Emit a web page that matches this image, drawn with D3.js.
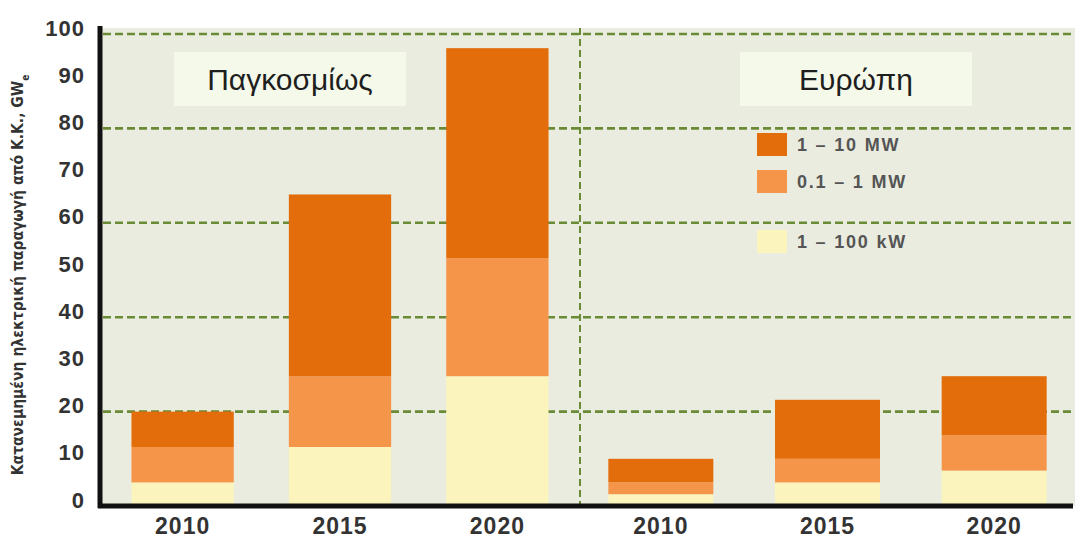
<!DOCTYPE html>
<html>
<head>
<meta charset="utf-8">
<script src="https://cdn.jsdelivr.net/npm/d3@7"></script>
<style>
  html, body { margin: 0; padding: 0; background: #ffffff; }
  svg { display: block; }
</style>
</head>
<body>
<svg id="chart" width="1091" height="559"></svg>
<script>
// Distributed generation capacity from renewables (GWe), by unit size
const regions = ["Παγκοσμίως", "Ευρώπη"];
const years = ["2010", "2015", "2020"];
const seriesNames = ["1 – 100 kW", "0.1 – 1 MW", "1 – 10 MW"];
const worldSmall  = [5, 12.5, 27.5];
const worldMedium = [7.5, 15, 25];
const worldLarge  = [7.5, 38.5, 44.5];
const europeSmall  = [2.5, 5, 7.5];
const europeMedium = [2.5, 5, 7.5];
const europeLarge  = [5, 12.5, 12.5];
const yTicks = [0, 10, 20, 30, 40, 50, 60, 70, 80, 90, 100];
const gridTicks = [20, 40, 60, 80, 100];
const legendOrder = ["1 – 10 MW", "0.1 – 1 MW", "1 – 100 kW"];
const yTitle = "Κατανεμημένη ηλεκτρική παραγωγή από Κ.Κ., GW";
const yTitleSub = "e";

const colors = d3.scaleOrdinal()
  .domain(seriesNames)
  .range(["#fbf5bd", "#f5954a", "#e36c0b"]);

const svg = d3.select("#chart");
const plot = { left: 100, right: 1075, top: 28, bottom: 506, split: 580 };

const y = d3.scaleLinear().domain([0, 100]).range([plot.bottom, 34]);

// one band scale per region panel
const xScales = {
  "Παγκοσμίως": d3.scaleBand().domain(years).range([plot.left, plot.split]).paddingInner(0.35).paddingOuter(0.2),
  "Ευρώπη": d3.scaleBand().domain(years).range([plot.split, plot.right]).paddingInner(0.37).paddingOuter(0.17)
};

const rows = [];
years.forEach((yr, i) => {
  rows.push({ region: regions[0], year: yr, "1 – 100 kW": worldSmall[i], "0.1 – 1 MW": worldMedium[i], "1 – 10 MW": worldLarge[i] });
  rows.push({ region: regions[1], year: yr, "1 – 100 kW": europeSmall[i], "0.1 – 1 MW": europeMedium[i], "1 – 10 MW": europeLarge[i] });
});
const stacked = d3.stack().keys(seriesNames)(rows);

// plot background
svg.append("rect")
  .attr("x", plot.left).attr("y", plot.top)
  .attr("width", plot.right - plot.left).attr("height", plot.bottom - plot.top)
  .attr("fill", "#e9ecdf");

// dashed horizontal grid
svg.append("g").selectAll("line")
  .data(gridTicks)
  .join("line")
  .attr("x1", plot.left + 3).attr("x2", plot.right)
  .attr("y1", d => y(d)).attr("y2", d => y(d))
  .attr("stroke", "#6b8a36").attr("stroke-width", 2.6)
  .attr("stroke-dasharray", "8,4");

// panel divider
svg.append("line")
  .attr("x1", plot.split).attr("x2", plot.split)
  .attr("y1", plot.top).attr("y2", plot.bottom)
  .attr("stroke", "#6b8a36").attr("stroke-width", 2)
  .attr("stroke-dasharray", "7,4");

// stacked bars
svg.append("g").selectAll("g")
  .data(stacked)
  .join("g")
  .attr("fill", d => colors(d.key))
  .selectAll("rect")
  .data(d => d)
  .join("rect")
  .attr("x", d => xScales[d.data.region](d.data.year))
  .attr("width", d => xScales[d.data.region].bandwidth())
  .attr("y", d => y(d[1]))
  .attr("height", d => y(d[0]) - y(d[1]));

// region title boxes
const titleBox = { w: 232, h: 54 };
const titleCenters = { "Παγκοσμίως": 290, "Ευρώπη": 856 };
const titles = svg.append("g").selectAll("g")
  .data(regions)
  .join("g")
  .attr("transform", d => `translate(${titleCenters[d]},79)`);
titles.append("rect")
  .attr("x", -titleBox.w / 2).attr("y", -titleBox.h / 2)
  .attr("width", titleBox.w).attr("height", titleBox.h)
  .attr("fill", "#f4f9ea");
titles.append("text")
  .attr("text-anchor", "middle").attr("dy", "0.35em")
  .attr("font-family", "'Liberation Sans', Arial, sans-serif")
  .attr("font-size", 30).attr("fill", "#1e1e1e")
  .text(d => d);

// legend
const legendY = { "1 – 10 MW": 133, "0.1 – 1 MW": 170, "1 – 100 kW": 230 };
const legend = svg.append("g").selectAll("g")
  .data(legendOrder)
  .join("g")
  .attr("transform", d => `translate(757,${legendY[d]})`);
legend.append("rect")
  .attr("width", 30).attr("height", 23)
  .attr("fill", d => colors(d));
legend.append("text")
  .attr("x", 40).attr("y", 12).attr("dy", "0.35em")
  .attr("font-family", "'Liberation Sans', Arial, sans-serif")
  .attr("font-weight", "bold").attr("font-size", 18)
  .attr("letter-spacing", 1.8)
  .attr("fill", "#555")
  .text(d => d);

// axes lines
svg.append("line")
  .attr("x1", plot.left).attr("x2", plot.left)
  .attr("y1", plot.top - 2).attr("y2", plot.bottom + 2)
  .attr("stroke", "#111").attr("stroke-width", 5);
svg.append("line")
  .attr("x1", plot.left - 2).attr("x2", plot.right - 2)
  .attr("y1", plot.bottom).attr("y2", plot.bottom)
  .attr("stroke", "#111").attr("stroke-width", 5);

// y tick labels
const yAxis = svg.append("g")
  .attr("transform", `translate(${plot.left - 15},-6)`)
  .call(d3.axisLeft(y).tickValues(yTicks).tickSize(0).tickPadding(0));
yAxis.select(".domain").remove();
yAxis.selectAll("text")
  .attr("font-family", "'Liberation Sans', Arial, sans-serif")
  .attr("font-weight", "bold").attr("font-size", 22)
  .attr("letter-spacing", 1)
  .attr("fill", "#333");

// x labels, one axis per panel
regions.forEach(r => {
  const ax = svg.append("g")
    .attr("transform", `translate(0,${plot.bottom + 12})`)
    .call(d3.axisBottom(xScales[r]).tickSize(0).tickPadding(0));
  ax.select(".domain").remove();
  ax.selectAll("text")
    .attr("dy", "0.71em")
    .attr("font-family", "'Liberation Sans', Arial, sans-serif")
    .attr("font-weight", "bold").attr("font-size", 23)
    .attr("letter-spacing", 1)
    .attr("fill", "#333");
});

// y title
const yt = svg.append("text")
  .attr("transform", `translate(23,${(plot.top + plot.bottom) / 2 + 8}) rotate(-90)`)
  .attr("text-anchor", "middle")
  .attr("font-family", "'Liberation Sans Narrow', 'DejaVu Sans Condensed', Arial, sans-serif")
  .attr("font-weight", "bold").attr("font-size", 15.5)
  .attr("fill", "#333");
yt.append("tspan").text(yTitle);
yt.append("tspan").attr("baseline-shift", "sub").attr("font-size", 10).text(yTitleSub);
</script>
</body>
</html>
